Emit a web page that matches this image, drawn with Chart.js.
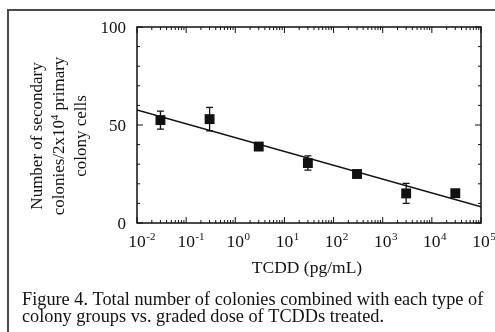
<!DOCTYPE html>
<html>
<head>
<meta charset="utf-8">
<script src="https://cdn.jsdelivr.net/npm/chart.js@4.4.1/dist/chart.umd.min.js"></script>
<style>
  html, body { margin: 0; padding: 0; background: #fff; }
  #wrap { width: 495px; height: 332px; position: relative; }
</style>
</head>
<body>
<div id="wrap"><canvas id="chart"></canvas></div>
<script>
// measured points (TCDD dose, colonies) with error half-widths
const doses = [0.03, 0.3, 3, 30, 300, 3000, 30000];
const colonies = [52.5, 53, 39, 30.6, 25, 15.1, 15.2];
const errors = [4.6, 6, 1, 3.6, 0.8, 5.1, 1.2];

// regression line end points
const fitX = [0.01, 100000];
const fitY = [57.7, 8.3];

// axis ticks
const xExponents = [-2, -1, 0, 1, 2, 3, 4, 5];
const yMajor = [0, 50, 100];
const yMinor = [10, 20, 30, 40, 60, 70, 80, 90];

const yTitleLines = ['Number of secondary', 'colonies/2x10|4| primary', 'colony cells'];
const xTitle = 'TCDD (pg/mL)';
const caption = [
    'Figure 4. Total number of colonies combined with each type of',
    'colony groups vs. graded dose of TCDDs treated.'
];

const INK = '#111';
const SERIF = '"Liberation Serif", "DejaVu Serif", serif';

function font(size) {
    return size + 'px ' + SERIF;
}

// text with |sup| parts
function drawRich(ctx, str, x, y, size, align) {
    const parts = str.split('|');
    let total = 0;
    parts.forEach((p, i) => {
        ctx.font = font(i % 2 ? size * 0.62 : size);
        total += ctx.measureText(p).width;
    });
    let cx = align === 'center' ? x - total / 2 : x;
    ctx.textAlign = 'left';
    parts.forEach((p, i) => {
        const sup = i % 2 === 1;
        ctx.font = font(sup ? size * 0.62 : size);
        ctx.fillText(p, cx, sup ? y - size * 0.38 : y);
        cx += ctx.measureText(p).width;
    });
}

const decor = {
    id: 'decor',
    beforeDraw(chart) {
        const ctx = chart.ctx;
        ctx.save();
        ctx.fillStyle = '#fff';
        ctx.fillRect(0, 0, chart.width, chart.height);
        // outer figure frame
        ctx.strokeStyle = '#4a4a4a';
        ctx.lineWidth = 2;
        ctx.beginPath();
        ctx.moveTo(8, chart.height + 2);
        ctx.lineTo(8, 10);
        ctx.lineTo(chart.width + 2, 10);
        ctx.stroke();
        ctx.restore();
    },
    beforeDatasetsDraw(chart) {
        const ctx = chart.ctx;
        const xs = chart.scales.x, ys = chart.scales.y;
        ctx.save();
        ctx.strokeStyle = INK;
        ctx.lineWidth = 1.3;
        doses.forEach((d, i) => {
            const px = xs.getPixelForValue(d);
            const top = ys.getPixelForValue(colonies[i] + errors[i]);
            const bot = ys.getPixelForValue(colonies[i] - errors[i]);
            ctx.beginPath();
            ctx.moveTo(px, top); ctx.lineTo(px, bot);
            ctx.moveTo(px - 3.5, top); ctx.lineTo(px + 3.5, top);
            ctx.moveTo(px - 3.5, bot); ctx.lineTo(px + 3.5, bot);
            ctx.stroke();
        });
        ctx.restore();
    },
    afterDraw(chart) {
        const ctx = chart.ctx;
        const a = chart.chartArea;
        const xs = chart.scales.x, ys = chart.scales.y;
        ctx.save();
        ctx.strokeStyle = INK;
        ctx.fillStyle = INK;
        ctx.lineWidth = 1.5;
        ctx.strokeRect(a.left, a.top, a.right - a.left, a.bottom - a.top);

        ctx.lineWidth = 1;
        ctx.beginPath();
        // x ticks, bottom and top, pointing in
        xExponents.forEach((e, i) => {
            const px = xs.getPixelForValue(Math.pow(10, e));
            ctx.moveTo(px, a.bottom); ctx.lineTo(px, a.bottom - 6);
            ctx.moveTo(px, a.top); ctx.lineTo(px, a.top + 6);
            if (i < xExponents.length - 1) {
                for (let m = 2; m <= 9; m++) {
                    const mx = xs.getPixelForValue(m * Math.pow(10, e));
                    ctx.moveTo(mx, a.bottom); ctx.lineTo(mx, a.bottom - 3);
                    ctx.moveTo(mx, a.top); ctx.lineTo(mx, a.top + 3);
                }
            }
        });
        yMajor.forEach(v => {
            const py = ys.getPixelForValue(v);
            ctx.moveTo(a.left, py); ctx.lineTo(a.left + 6, py);
            ctx.moveTo(a.right, py); ctx.lineTo(a.right - 6, py);
        });
        yMinor.forEach(v => {
            const py = ys.getPixelForValue(v);
            ctx.moveTo(a.left, py); ctx.lineTo(a.left + 3, py);
            ctx.moveTo(a.right, py); ctx.lineTo(a.right - 3, py);
        });
        ctx.stroke();

        // y tick labels
        ctx.font = font(17);
        ctx.textAlign = 'right';
        ctx.textBaseline = 'middle';
        yMajor.forEach(v => {
            ctx.fillText(String(v), a.left - 11, ys.getPixelForValue(v) + 2);
        });

        // x tick labels: 10 centred on the tick, exponent after it
        ctx.textBaseline = 'alphabetic';
        xExponents.forEach(e => {
            const px = xs.getPixelForValue(Math.pow(10, e));
            ctx.font = font(17.5);
            const w = ctx.measureText('10').width;
            ctx.textAlign = 'left';
            ctx.fillText('10', px - w / 2, a.bottom + 24);
            ctx.font = font(11);
            ctx.fillText(e < 0 ? '-' + (-e) : String(e), px + w / 2 + 0.5, a.bottom + 17);
        });

        // x title
        ctx.font = font(17.5);
        ctx.textAlign = 'center';
        ctx.fillText(xTitle, (a.left + a.right) / 2 - 2, 273);

        // y title, rotated
        ctx.save();
        ctx.translate(0, 136);
        ctx.rotate(-Math.PI / 2);
        const lineX = [42, 64, 86];
        yTitleLines.forEach((t, i) => {
            drawRich(ctx, t, 0, lineX[i], 17, 'center');
        });
        ctx.restore();

        // caption
        ctx.textAlign = 'left';
        ctx.font = font(18.3);
        ctx.fillText(caption[0], 22, 305);
        ctx.fillText(caption[1], 22, 322);
        ctx.restore();
    }
};

new Chart(document.getElementById('chart'), {
    type: 'scatter',
    data: {
        datasets: [
            {
                type: 'line',
                data: fitX.map((x, i) => ({ x, y: fitY[i] })),
                borderColor: INK,
                borderWidth: 1.5,
                pointRadius: 0,
                fill: false
            },
            {
                data: doses.map((x, i) => ({ x, y: colonies[i] })),
                pointStyle: 'rect',
                pointRadius: 7,
                backgroundColor: INK,
                borderColor: INK,
                borderWidth: 0
            }
        ]
    },
    options: {
        responsive: true,
        maintainAspectRatio: false,
        animation: false,
        events: [],
        layout: { padding: { left: 137, top: 27, right: 14, bottom: 109 } },
        plugins: { legend: { display: false }, tooltip: { enabled: false } },
        scales: {
            x: { type: 'logarithmic', min: 0.01, max: 100000, display: false },
            y: { type: 'linear', min: 0, max: 100, display: false }
        }
    },
    plugins: [decor]
});
</script>
</body>
</html>
